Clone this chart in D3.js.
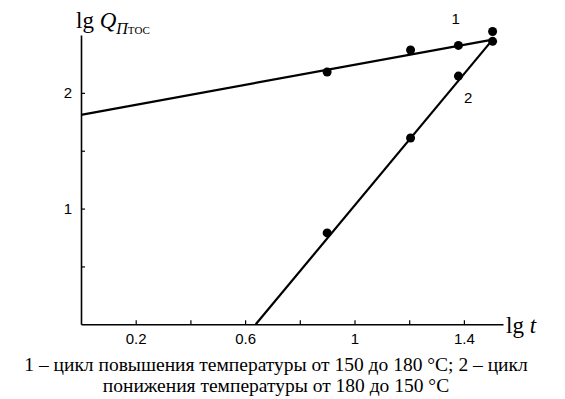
<!DOCTYPE html>
<html><head><meta charset="utf-8">
<script src="https://cdn.jsdelivr.net/npm/d3@7"></script>
<style>body{margin:0;background:#fff}svg{display:block}</style>
</head><body>
<svg id="c" width="565" height="399"></svg>
<script>
// Data
const xTicks = [0.2, 0.4, 0.6, 0.8, 1.0, 1.2, 1.4];
const xTickLabels = ["0.2", "", "0.6", "", "1", "", "1.4"];
const yTicks = [0.5, 1, 1.5, 2];
const yTickLabels = ["", "1", "", "2"];
// Curve 1: heating cycle
const s1x = [0.90, 1.205, 1.38, 1.505];
const s1y = [2.18, 2.37, 2.41, 2.53];
const fit1x = [0.0, 1.505];
const fit1y = [1.81, 2.46];
// Curve 2: cooling cycle
const s2x = [0.90, 1.205, 1.38, 1.505];
const s2y = [0.79, 1.61, 2.145, 2.445];
const fit2x = [0.639, 1.505];
const fit2y = [0.0, 2.46];
const seriesLabels = ["1", "2"];
const caption = ["1 – цикл повышения температуры от 150 до 180 °C; 2 – цикл",
                 "понижения температуры от 180 до 150 °C"];

const svg = d3.select("#c");
const x = d3.scaleLinear().domain([0, 1.543]).range([81, 503]);
const y = d3.scaleLinear().domain([0, 2.5]).range([324.3, 35]);

const tickFont = "'Liberation Sans', Arial, sans-serif";
const serif = "'Liberation Serif', 'Times New Roman', serif";

const xa = svg.append("g").attr("transform", `translate(0,${y(0)})`)
  .call(d3.axisBottom(x).tickValues(xTicks).tickSize(-4).tickSizeOuter(0)
    .tickFormat((d, i) => xTickLabels[i]));
xa.select(".domain").attr("stroke-width", 1.6);
xa.selectAll(".tick line").attr("stroke-width", 1.2);
xa.selectAll(".tick text").attr("font-family", tickFont).attr("font-size", 15)
  .attr("y", 9).attr("dy", "0.71em").attr("fill", "#000");

const ya = svg.append("g").attr("transform", `translate(${x(0)},0)`)
  .call(d3.axisLeft(y).tickValues(yTicks).tickSize(-4).tickSizeOuter(0)
    .tickFormat((d, i) => yTickLabels[i]));
ya.select(".domain").attr("stroke-width", 1.6);
ya.selectAll(".tick line").attr("stroke-width", 1.2);
ya.selectAll(".tick text").attr("font-family", tickFont).attr("font-size", 15)
  .attr("x", -9).attr("fill", "#000");

// fitted lines
const line = d3.line().x(d => x(d[0])).y(d => y(d[1]));
[[fit1x, fit1y], [fit2x, fit2y]].forEach(([fx, fy]) => {
  svg.append("path").datum(fx.map((v, i) => [v, fy[i]]))
    .attr("d", line).attr("fill", "none").attr("stroke", "#000").attr("stroke-width", 2.2);
});
// points
[[s1x, s1y], [s2x, s2y]].forEach(([sx, sy]) => {
  svg.append("g").selectAll("circle").data(sx.map((v, i) => [v, sy[i]])).join("circle")
    .attr("cx", d => x(d[0])).attr("cy", d => y(d[1])).attr("r", 4.5).attr("fill", "#000");
});

// series labels
svg.append("text").attr("x", x(1.355)).attr("y", y(2.5) - 11).attr("font-family", tickFont)
  .attr("font-size", 15).text(seriesLabels[0]);
svg.append("text").attr("x", x(1.40)).attr("y", y(1.915)).attr("font-family", tickFont)
  .attr("font-size", 15).text(seriesLabels[1]);

// y-axis title
const yt = svg.append("text").attr("x", 76).attr("y", 28).attr("font-family", serif).attr("font-size", 23);
yt.append("tspan").text("lg ");
yt.append("tspan").attr("font-style", "italic").text("Q");
yt.append("tspan").attr("font-style", "italic").attr("font-size", 16).attr("dy", 6).text("П");
yt.append("tspan").attr("font-size", 11).text("ТОС");

// x-axis title
const xt = svg.append("text").attr("x", 506).attr("y", 333).attr("font-family", serif).attr("font-size", 23);
xt.append("tspan").text("lg ");
xt.append("tspan").attr("font-style", "italic").text("t");

// caption
caption.forEach((c, i) => {
  svg.append("text").attr("x", 276).attr("y", 371 + i * 21).attr("text-anchor", "middle")
    .attr("font-family", serif).attr("font-size", 19.5).text(c);
});
</script>
</body></html>
